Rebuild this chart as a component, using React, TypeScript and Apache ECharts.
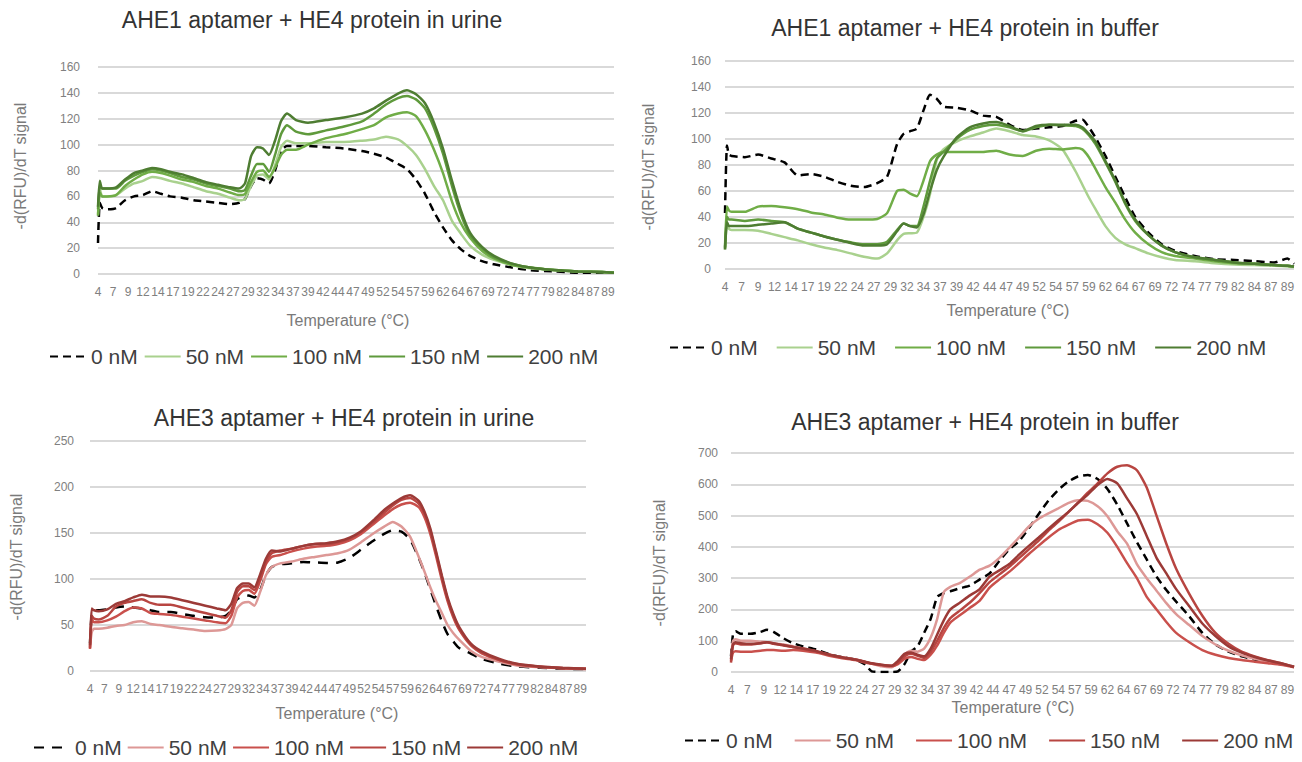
import React, { useEffect, useRef } from "react";
import * as echarts from "echarts";

// ---------- Chart 1: AHE1 aptamer + HE4 protein in urine ----------
const T1 = [4, 4.3, 4.7, 5.5, 7, 8.5, 10, 11.5, 13, 14.5, 16, 18, 20, 22, 24, 26, 27.5, 28.5, 29.5, 30.5, 31.5, 32.5, 33.5, 34.5, 35.5, 37, 39, 42, 45, 48, 50, 52, 54, 55.5, 57, 58.5, 60, 61.5, 63, 64.5, 66, 68, 70, 73, 76, 80, 84, 88, 90];
const c1_0 = [24, 55, 51, 50, 51, 57, 60, 61, 64, 62, 60, 59, 57, 56, 55, 54, 55, 58, 68, 74, 73, 70, 80, 95, 99, 99, 99, 98, 97, 95, 93, 90, 85, 81, 73, 62, 48, 36, 26, 19, 14, 10, 7.5, 5, 3, 2, 1, 1, 1];
const c1_50 = [46, 66, 60, 60, 61, 66, 70, 72, 75, 74, 72, 70, 67, 64, 62, 59, 57, 58, 68, 76, 77, 73, 84, 98, 103, 101, 101, 102, 102, 103, 104, 106, 104, 99, 92, 81, 68, 57, 41, 31, 22, 15, 11, 7, 4.5, 3, 2, 1.5, 1];
const c1_100 = [45, 63, 60, 60, 61, 68, 73, 77, 79, 78, 76, 73, 71, 68, 66, 63, 61, 62, 71, 79, 80, 75, 82, 92, 96, 96, 100, 105, 108, 112, 115, 121, 124, 125, 122, 111, 96, 78, 56, 39, 28, 18, 12, 7, 5, 3, 2, 1.5, 1];
const c1_150 = [50, 68, 66, 66, 66, 72, 76, 79, 81, 80, 78, 75, 73, 70, 68, 66, 64, 65, 76, 85, 85, 79, 92, 108, 115, 110, 108, 111, 114, 118, 124, 131, 136, 137.5, 135, 128, 113, 93, 68, 46, 30, 20, 13, 8, 5, 3, 2, 1.5, 1];
const c1_200 = [52, 72, 66, 66, 67, 73, 78, 80, 82, 81, 79, 77, 74, 71, 69, 67, 66, 70, 91, 98, 97, 92, 103, 118, 124, 119, 117, 119, 121, 124, 128, 134, 139.5, 142, 139, 132, 117, 97, 72, 49, 32, 21, 14, 8, 5, 3, 2, 1.5, 1];

// ---------- Chart 2: AHE1 aptamer + HE4 protein in buffer ----------
const T2 = [4, 4.3, 4.6, 5, 7, 9, 11, 13, 15, 17, 19, 21, 23, 25, 27, 28.5, 30, 31, 32, 33, 34, 35, 36, 37, 39, 41, 43, 45, 47, 49, 51, 53, 55, 57, 58, 59, 60, 61.5, 63, 64.5, 66, 68, 70, 72, 75, 78, 81, 84, 87, 89, 90];
const c2_0 = [43, 95, 88, 87, 86, 88, 85, 82, 72, 73, 71, 67, 64, 63, 66, 71, 96, 104, 106, 108, 122, 134, 131, 125, 124, 122, 118, 117, 111, 107, 108, 109, 110, 114, 115, 109, 101, 87, 71, 55, 40, 28, 19, 14, 10, 7.5, 7, 6, 5, 8, 4];
const c2_50 = [15, 35, 31, 30, 30, 29.5, 27, 24.5, 22, 19, 16.5, 14.5, 12, 9.5, 8, 12, 22, 27, 27.5, 28, 40, 58, 84, 92, 98, 102, 105, 108, 106, 103, 102, 99, 92, 75, 65, 55, 46, 33, 24, 19, 16, 12, 9, 7, 6, 4.5, 3.5, 3, 2.5, 2, 1.5];
const c2_100 = [17, 48, 45, 44, 44, 48, 48.5, 47.5, 46, 43.5, 42, 39.5, 38, 38, 38.5, 43, 60, 61, 58, 56, 68, 83, 88, 90, 90, 90, 90, 91, 88, 87, 91, 92.5, 92, 93, 92, 86, 77, 63, 51, 38, 28, 19, 13, 10, 8, 6, 4.5, 4, 3, 2.5, 2];
const c2_150 = [16, 40, 38, 38, 37, 38, 37, 36, 31, 28, 25, 22.5, 20.5, 19, 19, 21, 30, 35, 33, 33, 48, 68, 85, 90, 100, 107, 110, 111, 109, 106, 109, 111, 110.5, 110, 108, 103, 96, 82, 67, 50, 37, 26, 18, 13, 9, 7, 5, 4, 3, 2.5, 2];
const c2_200 = [15, 36, 33, 33, 33, 34, 35, 36, 31, 28, 25, 22.5, 20, 18, 18, 19, 29, 35, 33, 32, 42, 60, 76, 86, 101, 109, 112, 113, 110, 106, 110, 111, 111, 111, 109, 104, 98, 83, 68, 51, 38, 26, 18, 13, 9, 7, 5, 4, 3, 2.5, 2];

// ---------- Chart 3: AHE3 aptamer + HE4 protein in urine ----------
const T3 = [4, 4.3, 4.7, 5.5, 7, 8.5, 10, 11.5, 13, 14.5, 16, 18, 20, 22, 24, 26, 27.5, 28.5, 29.5, 30.5, 31.5, 32.5, 33.5, 34.5, 35.5, 37, 39, 41, 43, 45, 47, 49, 51, 53, 55, 56.5, 58, 59.5, 61, 62, 63, 64, 65, 66, 67, 68, 70, 72, 75, 78, 82, 86, 90];
const c3_0 = [30, 62, 66, 66, 67, 69, 70, 69, 68, 66, 64, 64, 62, 60, 58.5, 58, 60, 66, 78, 81, 82, 80, 88, 104, 113, 116, 117, 118.5, 118, 117.5, 118, 123, 132, 141, 149, 153, 151.5, 143, 123, 107, 89, 71, 54, 40, 32, 25, 19, 13, 8, 5, 3.5, 2.5, 2];
const c3_50 = [26, 42, 46, 46, 47, 49, 50, 53, 54, 51, 50, 48, 46.5, 45, 43.5, 44, 45.5, 50, 68, 74, 75, 71, 86, 104, 113, 117, 119, 122, 124, 126, 128, 132, 140, 149, 157, 162, 157, 146, 124, 108, 91, 76, 63, 50, 41, 34, 22, 15, 10, 6, 4, 3, 2];
const c3_100 = [24, 56, 53, 53, 55, 59, 65, 69, 68, 63, 62, 61, 59, 57, 55, 53, 52, 60, 80, 87, 88, 84, 98, 116, 124, 126, 130, 133, 135, 136, 138, 142, 149, 159, 169, 176, 181, 183, 178, 167, 149, 125, 99, 76, 58, 45, 28, 19, 12, 7, 4.5, 3, 2.5];
const c3_150 = [25, 60, 57, 56, 60, 70, 74, 76, 78, 74, 72, 72, 69, 66, 63, 60, 58, 66, 86, 92, 92, 88, 100, 118, 128, 131, 133, 136, 138, 138, 140, 144, 151, 161, 172, 180, 186, 188, 182, 171, 153, 128, 102, 78, 60, 46, 29, 20, 12, 7.5, 4.5, 3, 2.5];
const c3_200 = [28, 68, 66, 65, 67, 73, 76, 80, 83, 81, 81, 80, 77, 74, 71, 68, 66, 73, 90, 95, 95, 91, 105, 122, 131, 130, 133, 136, 138, 139, 141, 145, 152, 163, 175, 182, 188, 191, 185, 173, 155, 130, 104, 80, 62, 48, 30, 21, 13, 8, 5, 3.5, 2.5];

// ---------- Chart 4: AHE3 aptamer + HE4 protein in buffer ----------
const T4 = [4, 4.3, 4.7, 5.5, 7, 8.5, 9.5, 10.5, 12, 13.5, 15, 17, 19, 21, 23, 24.5, 25.5, 27, 28.5, 29.5, 30.5, 31.5, 32.5, 33.5, 34.5, 35.5, 36.5, 37.5, 39, 40.5, 42, 43.5, 45, 46.5, 48, 49.5, 51, 52.5, 54, 55.5, 57, 58.5, 60, 61.5, 63, 64.5, 66, 67.5, 69, 70.5, 72, 74, 76, 78, 80, 82, 84, 86, 88, 90];
const c4_0 = [50, 120, 130, 122, 122, 128, 135, 128, 108, 92, 82, 72, 57, 47, 40, 24, 2, 0, 0, 2, 25, 65, 82, 125, 170, 240, 252, 258, 268, 276, 296, 315, 355, 392, 418, 460, 505, 548, 582, 608, 625, 630, 617, 585, 535, 475, 415, 360, 305, 262, 225, 178, 125, 88, 65, 50, 40, 32, 25, 18];
const c4_50 = [40, 100, 105, 100, 100, 97, 95, 92, 88, 82, 75, 66, 55, 47, 40, 32, 27, 18, 15, 30, 55, 68, 65, 75, 110, 170, 255, 272, 285, 305, 327, 340, 365, 397, 430, 465, 490, 507, 523, 540, 549, 547, 530, 498, 450, 410, 345, 300, 260, 220, 185, 150, 115, 88, 68, 53, 42, 33, 26, 17];
const c4_100 = [35, 62, 66, 65, 65, 68, 70, 70, 68, 70, 68, 62, 52, 44, 38, 30, 26, 22, 18, 25, 42, 48, 42, 38, 55, 85, 125, 158, 182, 205, 228, 270, 296, 320, 348, 377, 404, 430, 454, 470, 484, 487, 472, 445, 400, 348, 300, 240, 200, 160, 125, 95, 70, 55, 45, 38, 33, 28, 23, 15];
const c4_150 = [30, 85, 92, 88, 88, 92, 95, 90, 85, 80, 74, 66, 55, 46, 40, 32, 27, 22, 20, 30, 50, 58, 52, 45, 65, 100, 140, 172, 197, 222, 253, 287, 312, 336, 364, 392, 420, 452, 480, 510, 541, 573, 603, 635, 656, 661, 645, 590, 500, 410, 330, 250, 180, 125, 90, 65, 50, 38, 28, 16];
const c4_200 = [40, 88, 95, 92, 90, 92, 95, 92, 86, 80, 75, 67, 56, 47, 40, 33, 28, 23, 20, 35, 58, 62, 55, 50, 75, 120, 165, 200, 222, 245, 265, 305, 325, 345, 375, 403, 430, 458, 485, 511, 540, 567, 598, 617, 603, 555, 505, 435, 365, 315, 265, 210, 155, 115, 82, 62, 48, 37, 28, 16];

const SERIES_NAMES = ["0 nM", "50 nM", "100 nM", "150 nM", "200 nM"];
const TITLES = [
  "AHE1 aptamer + HE4 protein in urine",
  "AHE1 aptamer + HE4 protein in buffer",
  "AHE3 aptamer + HE4 protein in urine",
  "AHE3 aptamer + HE4 protein in buffer",
];
const X_TITLE = "Temperature (°C)";
const Y_TITLE = "-d(RFU)/dT signal";

const GREENS = ["#000000", "#a9d18e", "#70ad47", "#5f9a3c", "#4e7d32"];
const REDS = ["#000000", "#dd9896", "#c9504c", "#b84541", "#9c3a37"];

const FONT = "'Liberation Sans', Arial, sans-serif";
const CLEAR = "rgba(0,0,0,0)";

const PANELS = [
  {
    T: T1, vals: [c1_0, c1_50, c1_100, c1_150, c1_200], colors: GREENS, dash: [8, 5],
    grid: { left: 98, top: 67, width: 516, height: 207 }, ymax: 160, yint: 20, ylm: 18,
    title: [312, 20], xt: [348, 320], yt: [20, 166], legend: { left: 49, top: 346, gap: 6 },
  },
  {
    T: T2, vals: [c2_0, c2_50, c2_100, c2_150, c2_200], colors: GREENS, dash: [8, 5],
    grid: { left: 725, top: 61, width: 569, height: 208 }, ymax: 160, yint: 20, ylm: 14,
    title: [965, 28], xt: [1008, 310], yt: [648, 167], legend: { left: 669, top: 337, gap: 18 },
  },
  {
    T: T3, vals: [c3_0, c3_50, c3_100, c3_150, c3_200], colors: REDS, dash: [10, 8],
    grid: { left: 90, top: 441, width: 496, height: 230 }, ymax: 250, yint: 50, ylm: 16,
    title: [344, 418], xt: [337, 713], yt: [16, 557], legend: { left: 33, top: 737, gap: 5 },
  },
  {
    T: T4, vals: [c4_0, c4_50, c4_100, c4_150, c4_200], colors: REDS, dash: [8, 5],
    grid: { left: 731, top: 453, width: 563, height: 219 }, ymax: 700, yint: 100, ylm: 13,
    title: [985, 422], xt: [1013, 707], yt: [659, 563], legend: { left: 684, top: 730, gap: 21 },
  },
];

function textEl(x: number, y: number, text: string, size: number, fill: string, rotation = 0) {
  return {
    type: "text",
    x,
    y,
    rotation,
    style: {
      text,
      fontSize: size,
      fontFamily: FONT,
      fill,
      align: "center",
      verticalAlign: "middle",
      textAlign: "center",
      textVerticalAlign: "middle",
    },
  };
}

function buildOption() {
  const grid: any[] = [];
  const xAxis: any[] = [];
  const yAxis: any[] = [];
  const series: any[] = [];
  const legend: any[] = [];
  const graphic: any[] = [];

  PANELS.forEach((p, i) => {
    grid.push({ ...p.grid, containLabel: false });
    xAxis.push({
      gridIndex: i,
      type: "value",
      min: 4,
      max: 90,
      interval: 2.5,
      axisLine: { show: false },
      axisTick: { show: false },
      splitLine: { show: false },
      axisLabel: {
        formatter: (v: number) => String(Math.round(v)),
        showMaxLabel: false,
        showMinLabel: true,
        hideOverlap: false,
        fontSize: 12,
        fontFamily: FONT,
        color: "#808080",
        margin: 12,
      },
    });
    yAxis.push({
      gridIndex: i,
      type: "value",
      min: 0,
      max: p.ymax,
      interval: p.yint,
      axisLine: { show: false },
      axisTick: { show: false },
      axisLabel: { fontSize: 12, fontFamily: FONT, color: "#808080", margin: p.ylm },
      splitLine: { lineStyle: { color: "#cccccc", width: 1.5 } },
    });
    const names: string[] = [];
    SERIES_NAMES.forEach((nm, k) => {
      const name = `p${i}|${nm}`;
      names.push(name);
      series.push({
        name,
        type: "line",
        xAxisIndex: i,
        yAxisIndex: i,
        data: p.T.map((t, j) => [t, p.vals[k][j]]),
        symbol: "none",
        showSymbol: false,
        smooth: 0.2,
        z: 2 + k,
        lineStyle: {
          color: p.colors[k],
          width: 2.5,
          type: k === 0 ? p.dash : "solid",
        },
        itemStyle: { color: p.colors[k] },
      });
    });
    legend.push({
      data: names,
      left: p.legend.left,
      top: p.legend.top,
      orient: "horizontal",
      padding: 0,
      itemGap: p.legend.gap,
      itemWidth: 36,
      itemHeight: 14,
      selectedMode: false,
      formatter: (n: string) => n.split("|")[1],
      itemStyle: { color: CLEAR, borderColor: CLEAR, borderWidth: 0, opacity: 0 },
      textStyle: { fontSize: 21, fontFamily: FONT, color: "#404040" },
    });
    graphic.push(textEl(p.title[0], p.title[1], TITLES[i], 23, "#333333"));
    graphic.push(textEl(p.xt[0], p.xt[1], X_TITLE, 16, "#7a7a7a"));
    graphic.push(textEl(p.yt[0], p.yt[1], Y_TITLE, 16, "#7a7a7a", Math.PI / 2));
  });

  return {
    animation: false,
    backgroundColor: "#ffffff",
    grid,
    xAxis,
    yAxis,
    series,
    legend,
    graphic,
  };
}

export default function App() {
  const ref = useRef<HTMLDivElement>(null);
  useEffect(() => {
    if (!ref.current) return;
    const chart = echarts.init(ref.current, undefined, { renderer: "svg" });
    chart.setOption(buildOption() as any);
    return () => chart.dispose();
  }, []);
  return (
    <div
      ref={ref}
      style={{ position: "fixed", left: 0, top: 0, width: 1302, height: 762, background: "#fff" }}
    />
  );
}
